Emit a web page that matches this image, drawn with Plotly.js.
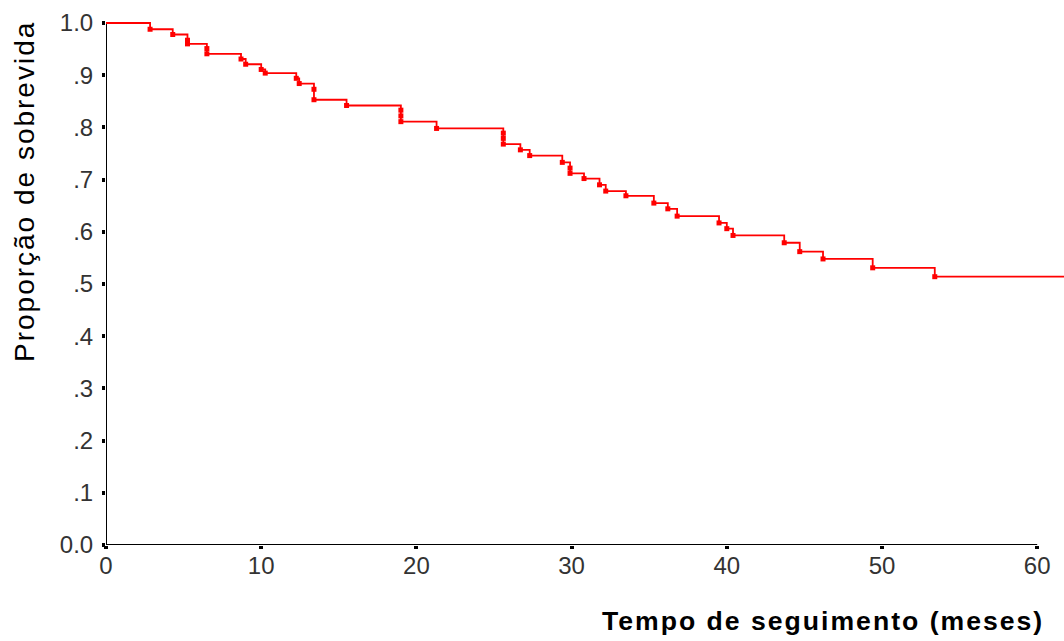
<!DOCTYPE html>
<html>
<head>
<meta charset="utf-8">
<script src="https://cdn.plot.ly/plotly-3.0.1.min.js"></script>
<style>
  html, body { margin: 0; padding: 0; background: #fff; }
  #chart { width: 1064px; height: 641px; }
  .annotation-text { letter-spacing: 2px; }
</style>
</head>
<body>
<div id="chart"></div>
<script>
// Kaplan-Meier estimate: event times (months) and survival proportion after each event
const eventTimes = [2.84, 4.3, 5.25, 5.25, 6.5, 6.5, 8.7, 9.0, 10.0, 10.26, 12.26, 12.45, 13.4, 13.4, 15.5,
  19.0, 19.0, 19.0, 21.3, 25.6, 25.6, 25.6, 26.7, 27.3, 29.4, 29.9, 29.9, 30.8, 31.8, 32.2, 33.5,
  35.3, 36.2, 36.8, 39.5, 40.0, 40.4, 43.7, 44.7, 46.2, 49.4, 53.4];
const survival = [0.988, 0.978, 0.967, 0.960, 0.951, 0.941, 0.931, 0.921, 0.911, 0.904, 0.894, 0.884, 0.873, 0.853, 0.842,
  0.833, 0.822, 0.811, 0.798, 0.789, 0.779, 0.768, 0.757, 0.746, 0.733, 0.722, 0.712, 0.702, 0.690, 0.678, 0.669,
  0.655, 0.644, 0.630, 0.617, 0.606, 0.593, 0.579, 0.562, 0.548, 0.531, 0.514];
const maxFollowUp = 62;

const xTickVals = [0, 10, 20, 30, 40, 50, 60];
const xTickText = ["0", "10", "20", "30", "40", "50", "60"];
const yTickVals = [0, 0.1, 0.2, 0.3, 0.4, 0.5, 0.6, 0.7, 0.8, 0.9, 1.0];
const yTickText = ["0.0", ".1", ".2", ".3", ".4", ".5", ".6", ".7", ".8", ".9", "1.0"];

const xTitle = "Tempo de seguimento (meses)";
const yTitle = "Proporção de sobrevida";

const lineX = [0].concat(eventTimes, [maxFollowUp]);
const lineY = [1].concat(survival, [survival[survival.length - 1]]);

const red = "#ff0000";
const tickFont = { family: "Liberation Sans, Arial, sans-serif", size: 24, color: "#333333" };

const traces = [
  {
    x: lineX, y: lineY, type: "scatter", mode: "lines",
    line: { shape: "hv", color: red, width: 1.8 },
    hoverinfo: "skip", cliponaxis: false
  },
  {
    x: eventTimes, y: survival, type: "scatter", mode: "markers",
    marker: { symbol: "square", size: 5, color: red, line: { width: 0 } },
    cliponaxis: false
  }
];

const layout = {
  width: 1064, height: 641,
  margin: { l: 106, r: 0, t: 18, b: 96, pad: 0 },
  paper_bgcolor: "#ffffff", plot_bgcolor: "#ffffff",
  showlegend: false,
  xaxis: {
    range: [0, 61.727], showgrid: false, zeroline: false, showline: false,
    tickmode: "array", tickvals: xTickVals, ticktext: xTickText,
    ticks: "outside", ticklen: 3, tickwidth: 4, tickcolor: "#000",
    ticklabelstandoff: -4,
    tickfont: tickFont, fixedrange: true
  },
  yaxis: {
    range: [0, 1.00958], showgrid: false, zeroline: false, showline: false,
    tickmode: "array", tickvals: yTickVals, ticktext: yTickText,
    ticks: "outside", ticklen: 3, tickwidth: 4, tickcolor: "#000",
    ticklabelstandoff: 4,
    tickfont: tickFont, fixedrange: true
  },
  shapes: [
    { type: "line", xref: "x", yref: "y", x0: 0, x1: 60, y0: 0, y1: 0, line: { color: "#000", width: 2 }, layer: "below" },
    { type: "line", xref: "x", yref: "y", x0: 0, x1: 0, y0: 0, y1: 1, line: { color: "#000", width: 2 }, layer: "below" }
  ],
  annotations: [
    {
      text: yTitle, xref: "paper", yref: "paper", x: -0.0856, y: 0.6717,
      xanchor: "center", yanchor: "middle", textangle: -90, showarrow: false,
      font: { family: "Liberation Sans, Arial, sans-serif", size: 28, color: "#000" }
    },
    {
      text: "<b>" + xTitle + "</b>", xref: "paper", yref: "paper", x: 0.9812, y: -0.144,
      xanchor: "right", yanchor: "middle", showarrow: false,
      font: { family: "Liberation Sans, Arial, sans-serif", size: 26.6, color: "#000" }
    }
  ]
};

Plotly.newPlot("chart", traces, layout, { displayModeBar: false, staticPlot: true });
</script>
</body>
</html>
